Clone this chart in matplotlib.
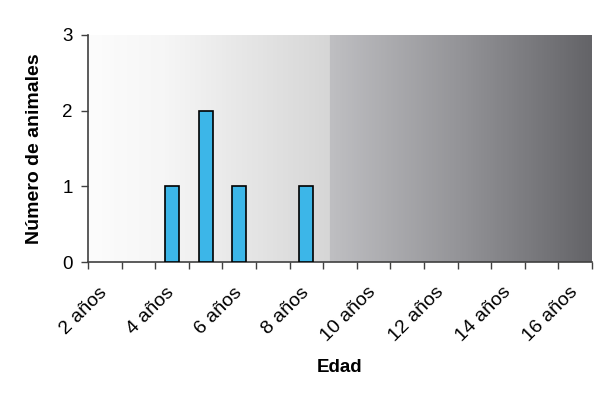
import matplotlib.pyplot as plt
import matplotlib.transforms as mtransforms
import numpy as np
from matplotlib.colors import LinearSegmentedColormap

# edades de 2 a 16 años y número de animales por edad
edades = ['%d años' % e for e in range(2, 17)]
animales = [0, 0, 1, 2, 1, 0, 1, 0, 0, 0, 0, 0, 0, 0, 0]

plt.rcParams['font.family'] = ['Liberation Sans', 'DejaVu Sans']

figura = plt.figure(figsize=(5.97, 3.93), dpi=100)
ax = figura.add_axes([0.1474, 0.3333, 0.8442, 0.5777])

# fondo degradado del área de trazado (dos tramos)
fondo = LinearSegmentedColormap.from_list('fondo', [
        (0.0, '#fcfcfc'), (0.15, '#f6f6f6'), (0.479, '#d6d6d6'),
        (0.481, '#bfbfc2'), (0.75, '#929296'), (1.0, '#646468')])
grad = np.linspace(0, 1, 600).reshape(1, -1)
ax.imshow(grad, cmap=fondo, aspect='auto', extent=[0, 1, 0, 1],
          transform=ax.transAxes, zorder=0, interpolation='bilinear')

x = np.arange(len(edades))
bordes = [1.2 if v > 0 else 0 for v in animales]
ax.bar(x, animales, width=0.42, color='#3cb6e8', edgecolor='black',
       linewidth=bordes, zorder=3)

ax.set_xlim(-0.5, len(edades) - 0.5)
ax.set_ylim(0, 3)
ax.set_yticks([0, 1, 2, 3])

# marcas en los límites de cada categoría, etiquetas cada dos años
ax.set_xticks(np.arange(-0.5, len(edades), 1.0), minor=True)
ax.set_xticks(x[::2])
ax.set_xticklabels(edades[::2], rotation=45, ha='right', va='center',
                   rotation_mode='anchor', fontsize=14)
desplazar = mtransforms.ScaledTranslation(-0.08, 0, figura.dpi_scale_trans)
for etiqueta in ax.get_xticklabels():
        etiqueta.set_transform(etiqueta.get_transform() + desplazar)
ax.tick_params(axis='x', which='major', length=0, pad=20)
ax.tick_params(axis='x', which='minor', length=5, width=1, color='#404040',
               direction='out')
ax.tick_params(axis='y', length=5, width=1, color='#404040', labelsize=13.5,
               pad=6)

for lado in ['top', 'right']:
        ax.spines[lado].set_visible(False)
for lado in ['left', 'bottom']:
        ax.spines[lado].set_color('#404040')
        ax.spines[lado].set_linewidth(1.2)

ax.set_ylabel('Número de animales', fontsize=14, fontweight='bold',
              labelpad=14)
ax.set_xlabel('Edad', fontsize=13.5, fontweight='bold', labelpad=10)

plt.savefig('out.png', dpi=100)
